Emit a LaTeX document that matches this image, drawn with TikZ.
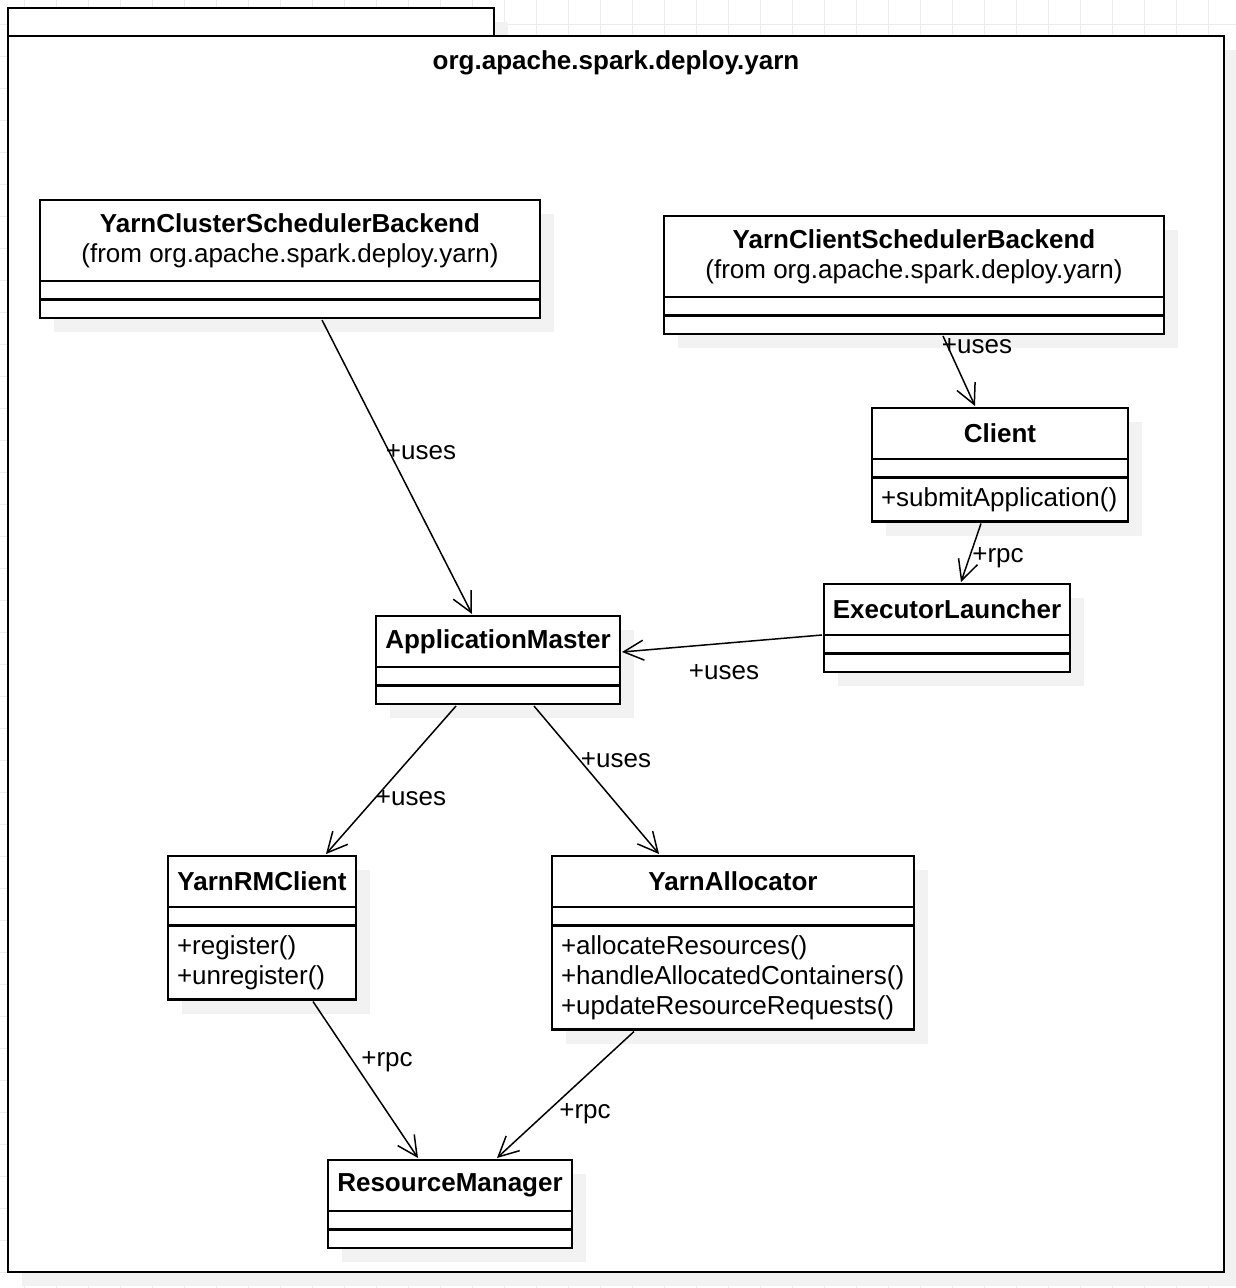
\documentclass[tikz,border=0pt]{standalone}
\usepackage{fontspec}
\setmainfont{Liberation Sans}
\usetikzlibrary{positioning,arrows.meta,shadows}
\definecolor{gridgray}{RGB}{236,236,236}
\definecolor{shadowgray}{RGB}{242,242,242}
\tikzset{
  box/.style={draw, fill=white, line width=2.2pt, inner sep=0pt, outer sep=0pt},
  shade/.style={drop shadow={shadow xshift=14pt, shadow yshift=-14pt, fill=shadowgray, opacity=1}},
  classhead/.style={box, shade, align=center, anchor=north west},
  classpart/.style={box, shade, minimum height=18.5pt},
  classops/.style={box, shade, inner xsep=9pt, align=left},
  uses/.style={line width=1.5pt, -{Straight Barb[length=20pt,width=20pt]}},
  lbl/.style={inner sep=0pt},
}
\begin{document}
\begin{tikzpicture}[x=1pt, y=-1pt, font=\fontsize{26}{30}\selectfont]
  \useasboundingbox (0,0) rectangle (1236,1288);
  % background grid
  \foreach \k in {0,...,37}
    \draw[gridgray, line width=1pt] (24.7+32*\k,0) -- (24.7+32*\k,1288);
  \foreach \k in {0,...,39}
    \draw[gridgray, line width=1pt] (0,24.7+32*\k) -- (1236,24.7+32*\k);

  % package
  \node[box, shade, minimum width=486pt, minimum height=28pt, anchor=north west] (tab) at (8,8) {};
  \node[box, shade, minimum width=1216pt, minimum height=1236pt, anchor=north west] (pkg) at (8,36) {};
  \node[lbl] (pkgname) at (616,63) {\textbf{org.apache.spark.deploy.yarn}};

  % classes
  \node[classhead, minimum width=500pt, minimum height=81pt] (ycsb) at (40,200)
    {\textbf{YarnClusterSchedulerBackend}\\(from org.apache.spark.deploy.yarn)};
  \node[classpart, minimum width=500pt, below=0pt of ycsb] (ycsb-a) {};
  \node[classpart, minimum width=500pt, below=0pt of ycsb-a] (ycsb-o) {};

  \node[classhead, minimum width=500pt, minimum height=81pt] (ycli) at (664,216)
    {\textbf{YarnClientSchedulerBackend}\\(from org.apache.spark.deploy.yarn)};
  \node[classpart, minimum width=500pt, below=0pt of ycli] (ycli-a) {};
  \node[classpart, minimum width=500pt, below=0pt of ycli-a] (ycli-o) {};

  \node[classhead, minimum width=256pt, minimum height=51pt] (client) at (872,408) {\textbf{Client}};
  \node[classpart, minimum width=256pt, below=0pt of client] (client-a) {};
  \node[classops, text width=238pt, minimum height=44pt, below=0pt of client-a] (client-o)
    {+submitApplication()};

  \node[classhead, minimum width=246pt, minimum height=51pt] (el) at (824,584) {\textbf{ExecutorLauncher}};
  \node[classpart, minimum width=246pt, below=0pt of el] (el-a) {};
  \node[classpart, minimum width=246pt, below=0pt of el-a] (el-o) {};

  \node[classhead, minimum width=244pt, minimum height=51pt] (am) at (376,616) {\textbf{ApplicationMaster}};
  \node[classpart, minimum width=244pt, below=0pt of am] (am-a) {};
  \node[classpart, minimum width=244pt, below=0pt of am-a] (am-o) {};

  \node[classhead, minimum width=188pt, minimum height=51pt] (rmc) at (168,856) {\textbf{YarnRMClient}};
  \node[classpart, minimum width=188pt, below=0pt of rmc] (rmc-a) {};
  \node[classops, text width=170pt, minimum height=74pt, below=0pt of rmc-a] (rmc-o)
    {+register()\\+unregister()};

  \node[classhead, minimum width=362pt, minimum height=51pt] (alloc) at (552,856) {\textbf{YarnAllocator}};
  \node[classpart, minimum width=362pt, below=0pt of alloc] (alloc-a) {};
  \node[classops, text width=344pt, minimum height=104pt, below=0pt of alloc-a] (alloc-o)
    {+allocateResources()\\+handleAllocatedContainers()\\+updateResourceRequests()};

  \node[classhead, minimum width=244pt, minimum height=51pt] (rm) at (328,1160) {\textbf{ResourceManager}};
  \node[classpart, minimum width=244pt, below=0pt of rm] (rm-a) {};
  \node[classpart, minimum width=244pt, below=0pt of rm-a] (rm-o) {};

  % connectors
  \draw[uses] ([xshift=32pt,yshift=-2pt]ycsb-o.south) -- ([xshift=-26pt,yshift=2pt]am.north);
  \draw[uses] ([xshift=29pt,yshift=-2pt]ycli-o.south) -- ([xshift=-25pt,yshift=2pt]client.north);
  \draw[uses] ([xshift=-19pt,yshift=-2pt]client-o.south) -- ([xshift=14pt,yshift=2pt]el.north);
  \draw[uses] ([xshift=-2pt]el.south west) -- ([xshift=2pt,yshift=-10.5pt]am.east);
  \draw[uses] ([xshift=-42pt,yshift=-2pt]am-o.south) -- ([xshift=64pt,yshift=2pt]rmc.north);
  \draw[uses] ([xshift=36pt,yshift=-2pt]am-o.south) -- ([xshift=-74pt,yshift=2pt]alloc.north);
  \draw[uses] ([xshift=51pt,yshift=-2pt]rmc-o.south) -- ([xshift=-32pt,yshift=2pt]rm.north);
  \draw[uses] ([xshift=-99pt,yshift=-2pt]alloc-o.south) -- ([xshift=47pt,yshift=2pt]rm.north);

  % labels
  \node[lbl] (uses-am) at (421,452) {+uses};
  \node[lbl] (uses-client) at (977,346) {+uses};
  \node[lbl] (rpc-el) at (998,558) {+rpc};
  \node[lbl] (uses-el) at (724,672) {+uses};
  \node[lbl] (uses-rmc) at (411,798) {+uses};
  \node[lbl] (uses-alloc) at (616,760) {+uses};
  \node[lbl] (rpc-rmc) at (387,1062) {+rpc};
  \node[lbl] (rpc-alloc) at (585,1114) {+rpc};
\end{tikzpicture}
\end{document}
